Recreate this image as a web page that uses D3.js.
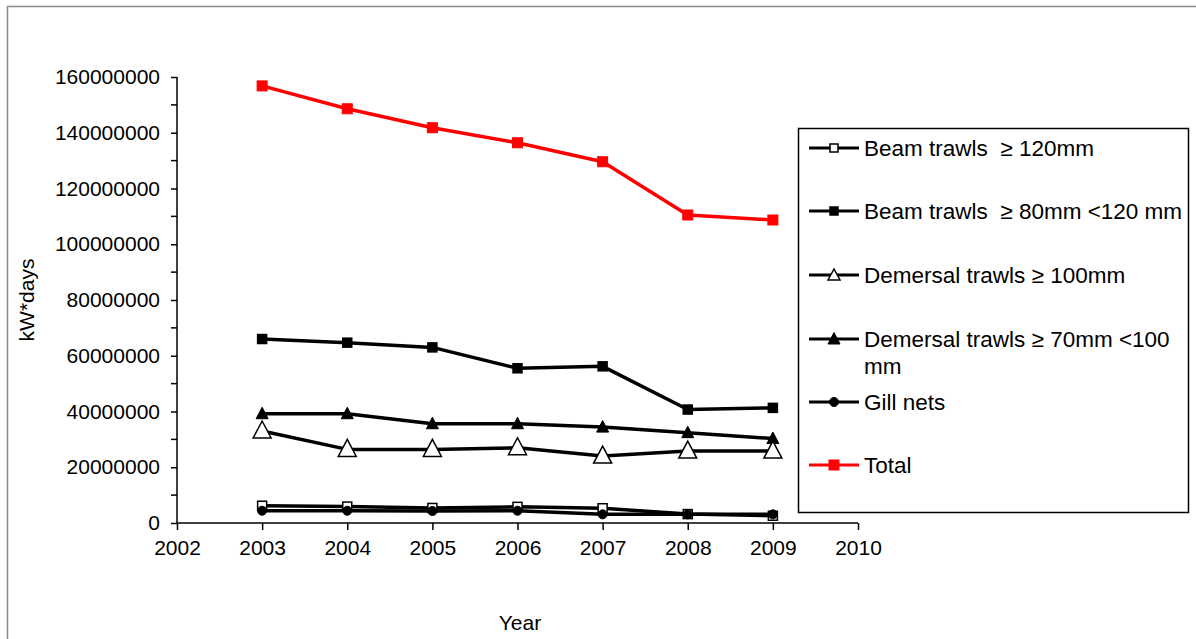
<!DOCTYPE html>
<html><head><meta charset="utf-8">
<script src="https://cdn.jsdelivr.net/npm/d3@7"></script>
<style>
body{margin:0;background:#fff;}
svg text{font-family:"Liberation Sans",Arial,sans-serif;fill:#000;white-space:pre;}
</style></head>
<body><svg id="c" width="1196" height="639"></svg>
<script>
const years = [2003, 2004, 2005, 2006, 2007, 2008, 2009];
const xTicks = [2002, 2003, 2004, 2005, 2006, 2007, 2008, 2009, 2010];
const yTicks = [0, 20000000, 40000000, 60000000, 80000000, 100000000, 120000000, 140000000, 160000000];
const beam120 = [6200000, 5900000, 5400000, 5800000, 5300000, 3200000, 2600000];
const beam80 = [66000000, 64700000, 63000000, 55500000, 56200000, 40700000, 41300000];
const dem100 = [33000000, 26400000, 26400000, 27000000, 24000000, 25800000, 25800000];
const dem70 = [39200000, 39200000, 35600000, 35600000, 34400000, 32400000, 30300000];
const gill = [4400000, 4400000, 4300000, 4400000, 3100000, 3100000, 3100000];
const total = [156800000, 148600000, 141800000, 136400000, 129600000, 110500000, 108700000];
const seriesNames = ["Beam trawls  \u2265 120mm", "Beam trawls  \u2265 80mm <120 mm", "Demersal trawls \u2265 100mm", "Demersal trawls \u2265 70mm <100|mm", "Gill nets", "Total"];

const series = [
  {name: seriesNames[0], values: beam120, color: "#000", marker: "sq", fill: "#fff"},
  {name: seriesNames[1], values: beam80, color: "#000", marker: "sq", fill: "#000"},
  {name: seriesNames[2], values: dem100, color: "#000", marker: "triBig", fill: "#fff"},
  {name: seriesNames[3], values: dem70, color: "#000", marker: "tri", fill: "#000"},
  {name: seriesNames[4], values: gill, color: "#000", marker: "circle", fill: "#000"},
  {name: seriesNames[5], values: total, color: "#ff0000", marker: "sqBig", fill: "#ff0000"}
];

const svg = d3.select("#c");
svg.append("rect").attr("x", 7.5).attr("y", 6.5).attr("width", 1200).attr("height", 700)
  .attr("fill", "none").attr("stroke", "#8a8a8a").attr("stroke-width", 1.5);

const x = d3.scaleLinear().domain([2002, 2010]).range([177, 858]);
const y = d3.scaleLinear().domain([0, 160000000]).range([523, 77]);

const yAxis = d3.axisLeft(y).tickValues(yTicks).tickFormat(d3.format("d")).tickSize(6).tickPadding(11);
const gy = svg.append("g").attr("transform", "translate(177,0)").call(yAxis);
gy.selectAll(".minor").data(d3.range(10000000, 160000000, 20000000)).enter().append("line")
  .attr("x1", -6).attr("x2", 0).attr("y1", d => y(d)).attr("y2", d => y(d)).attr("stroke", "#000").attr("stroke-width", 1.5);
const xAxis = d3.axisBottom(x).tickValues(xTicks).tickFormat(d3.format("d")).tickSize(7).tickPadding(10);
const gx = svg.append("g").attr("transform", "translate(0,523)").call(xAxis);
[gx, gy].forEach(g => {
  g.select(".domain").attr("stroke", "#000").attr("stroke-width", 1.5);
  g.selectAll(".tick line").attr("stroke", "#000").attr("stroke-width", 1.5);
  g.selectAll("text").attr("font-size", 21).attr("font-family", "Liberation Sans, Arial, sans-serif").attr("fill", "#000");
});
gx.select(".domain").attr("d", "M177,0H858");
gy.select(".domain").attr("d", "M0,77V523");

svg.append("text").attr("transform", "translate(34,300) rotate(-90)").attr("text-anchor", "middle")
  .attr("font-size", 21).text("kW*days");
svg.append("text").attr("x", 520).attr("y", 630).attr("text-anchor", "middle").attr("font-size", 21).text("Year");

function drawMarker(g, type, fill, stroke) {
  if (type === "sq") g.append("rect").attr("x", -4.5).attr("y", -4.5).attr("width", 9).attr("height", 9).attr("fill", fill).attr("stroke", stroke).attr("stroke-width", 1.5);
  else if (type === "sqBig") g.append("rect").attr("x", -5).attr("y", -5).attr("width", 10).attr("height", 10).attr("fill", fill).attr("stroke", stroke).attr("stroke-width", 1);
  else if (type === "triBig") g.append("path").attr("d", "M0,-10L9,7L-9,7Z").attr("fill", fill).attr("stroke", stroke).attr("stroke-width", 1.5);
  else if (type === "tri") g.append("path").attr("d", "M0,-6.5L6,5L-6,5Z").attr("fill", fill).attr("stroke", stroke).attr("stroke-width", 1);
  else if (type === "circle") g.append("circle").attr("r", 4.5).attr("fill", fill).attr("stroke", stroke).attr("stroke-width", 1);
}

const line = d3.line().x((d, i) => x(years[i])).y(d => y(d));
const drawOrder = [5, 1, 3, 2, 0, 4];
drawOrder.forEach(si => {
  const s = series[si];
  svg.append("path").attr("d", line(s.values)).attr("fill", "none").attr("stroke", s.color).attr("stroke-width", 3.5).attr("stroke-linejoin", "round");
});
drawOrder.forEach(si => {
  const s = series[si];
  s.values.forEach((v, i) => {
    const g = svg.append("g").attr("transform", `translate(${x(years[i])},${y(v)})`);
    drawMarker(g, s.marker, s.fill, s.color);
  });
});

svg.append("rect").attr("x", 798.5).attr("y", 128.5).attr("width", 390).attr("height", 384)
  .attr("fill", "#fff").attr("stroke", "#000").attr("stroke-width", 1.5);
const legY = [148, 211, 275, 339, 402, 465];
series.forEach((s, i) => {
  const g = svg.append("g").attr("transform", `translate(0,${legY[i]})`);
  g.append("line").attr("x1", 809).attr("x2", 859).attr("y1", 0).attr("y2", 0).attr("stroke", s.color).attr("stroke-width", 3);
  const m = g.append("g").attr("transform", "translate(834,0)");
  if (s.marker === "triBig") m.append("path").attr("d", "M0,-6L6,5L-6,5Z").attr("fill", "#fff").attr("stroke", "#000").attr("stroke-width", 1.5);
  else if (s.marker === "sq") m.append("rect").attr("x", -4).attr("y", -4).attr("width", 8).attr("height", 8).attr("fill", s.fill).attr("stroke", "#000").attr("stroke-width", 1.5);
  else drawMarker(m, s.marker, s.fill, s.color);
  const parts = s.name.split("|");
  const t = g.append("text").attr("x", 864).attr("y", 8).attr("font-size", 22.5);
  parts.forEach((p, k) => t.append("tspan").attr("x", 864).attr("dy", k === 0 ? 0 : 27).text(p));
});
</script></body></html>
